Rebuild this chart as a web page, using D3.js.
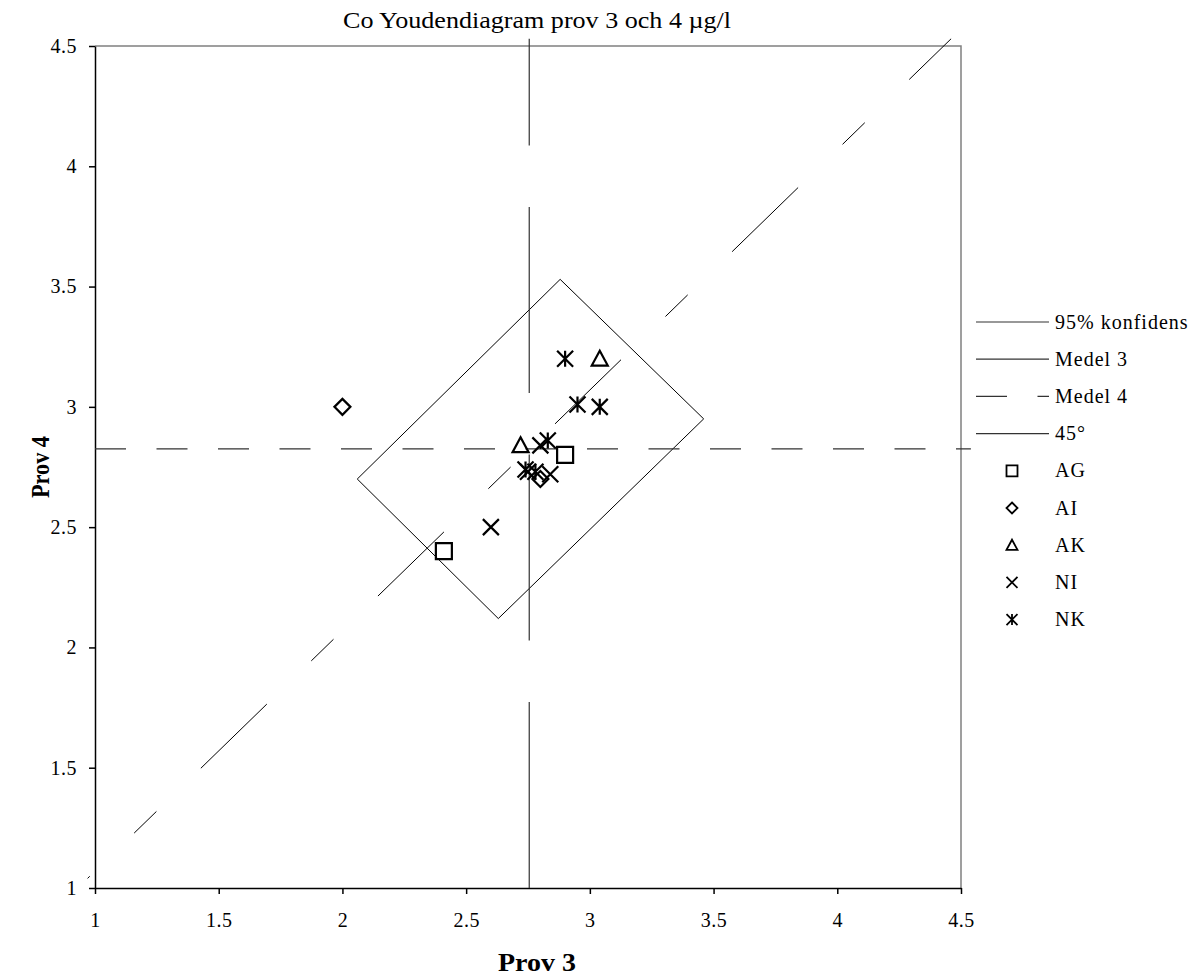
<!DOCTYPE html>
<html>
<head>
<meta charset="utf-8">
<script src="https://cdn.jsdelivr.net/npm/d3@7"></script>
<style>
  body { margin: 0; background: #fff; }
  text { font-family: "Liberation Serif", "Times New Roman", serif; fill: #000; }
</style>
</head>
<body>
<svg id="chart" width="1198" height="978"></svg>
<script>
// values
var tickValues = [1, 1.5, 2, 2.5, 3, 3.5, 4, 4.5];
var medel3 = 2.755;
var medel4 = 2.825;
var konfidens = [[2.06, 2.70], [2.88, 3.53], [3.46, 2.95], [2.63, 2.12], [2.06, 2.70]];
var line45 = [[0.97, 1.04], [4.46, 4.53]];
var medel3Line = [[medel3, 1.0], [medel3, 4.53]];
var medel4Line = [[1.0, medel4], [4.54, medel4]];

var AG = [[2.41, 2.40], [2.90, 2.80]];
var AI = [[2.00, 3.00], [2.80, 2.70]];
var AK = [[2.72, 2.84], [3.04, 3.20]];
var NI = [[2.60, 2.50], [2.80, 2.84], [2.75, 2.73], [2.84, 2.72]];
var NK = [[2.90, 3.20], [2.95, 3.01], [3.04, 3.00], [2.83, 2.86], [2.74, 2.74], [2.78, 2.73]];

var seriesNames = ["AG", "AI", "AK", "NI", "NK"];
var seriesData = [AG, AI, AK, NI, NK];
var lineNames = ["95% konfidens", "Medel 3", "Medel 4", "45\u00B0"];

var svg = d3.select("#chart");

var x = d3.scaleLinear().domain([1, 4.5]).range([95, 961]);
var y = d3.scaleLinear().domain([1, 4.5]).range([888, 46]);

// plot border (top + right are grey in the original)
svg.append("path")
    .attr("d", `M ${x(1)},${y(4.5)} H ${x(4.5)} V ${y(1)}`)
    .attr("fill", "none")
    .attr("stroke", "#808080")
    .attr("stroke-width", 1.5);

// axes
var xAxis = svg.append("g")
    .attr("transform", `translate(0,${y(1)})`)
    .call(d3.axisBottom(x).tickValues(tickValues).tickSize(6).tickSizeOuter(0).tickPadding(19).tickFormat(d => d));
var yAxis = svg.append("g")
    .attr("transform", `translate(${x(1)},0)`)
    .call(d3.axisLeft(y).tickValues(tickValues).tickSize(6).tickSizeOuter(0).tickPadding(12).tickFormat(d => d));

[xAxis, yAxis].forEach(function(a) {
    a.selectAll("path, line").attr("stroke", "#000").attr("stroke-width", 1.5);
    a.selectAll("text")
        .style("font-family", "'Liberation Serif', serif")
        .style("font-size", "20px")
        .style("letter-spacing", "0.5px")
        .attr("fill", "#000");
});

var line = d3.line().x(d => x(d[0])).y(d => y(d[1]));

// 95% confidence box
svg.append("path")
    .attr("d", line(konfidens))
    .attr("fill", "none")
    .attr("stroke", "#000")
    .attr("stroke-width", 1);

// medel lines
svg.append("path")
    .attr("d", line(medel3Line))
    .attr("fill", "none")
    .attr("stroke", "#333")
    .attr("stroke-width", 1.2)
    .attr("stroke-dasharray", "186,61.5");

svg.append("path")
    .attr("d", line(medel4Line))
    .attr("fill", "none")
    .attr("stroke", "#333")
    .attr("stroke-width", 1.2)
    .attr("stroke-dasharray", "31,30.5");

// 45 degree line
svg.append("path")
    .attr("d", line(line45))
    .attr("fill", "none")
    .attr("stroke", "#000")
    .attr("stroke-width", 1)
    .attr("stroke-dasharray", "92,62,31,62")
    .attr("stroke-dashoffset", 89);

// marker shapes
function markerPath(name, s) {
    if (name == "AG") return `M ${-s},${-s} H ${s} V ${s} H ${-s} Z`;
    if (name == "AI") return `M 0,${-s} L ${s},0 L 0,${s} L ${-s},0 Z`;
    if (name == "AK") return `M 0,${-s} L ${s},${s * 0.85} L ${-s},${s * 0.85} Z`;
    if (name == "NI") return `M ${-s},${-s} L ${s},${s} M ${s},${-s} L ${-s},${s}`;
    return `M ${-s},${-s} L ${s},${s} M ${s},${-s} L ${-s},${s} M 0,${-s} V ${s}`;
}

seriesNames.forEach(function(name, i) {
    svg.selectAll(".pt-" + name)
        .data(seriesData[i])
        .enter().append("path")
        .attr("class", "pt-" + name)
        .attr("transform", d => `translate(${x(d[0])},${y(d[1])})`)
        .attr("d", markerPath(name, 8))
        .attr("fill", "none")
        .attr("stroke", "#000")
        .attr("stroke-width", 2.2);
});

// legend
var legendY0 = 322, legendStep = 37.2;
var legend = svg.append("g");

lineNames.forEach(function(name, i) {
    var ly = legendY0 + i * legendStep;
    legend.append("line")
        .attr("x1", 976).attr("x2", 1049)
        .attr("y1", ly).attr("y2", ly)
        .attr("stroke", "#333")
        .attr("stroke-width", 1.2)
        .attr("stroke-dasharray", name == "Medel 4" ? "31,30.5" : null);
    legend.append("text")
        .attr("x", 1055)
        .attr("y", ly + 6.5)
        .style("font-size", "20px")
        .style("letter-spacing", "1px")
        .text(name);
});

seriesNames.forEach(function(name, i) {
    var ly = legendY0 + (i + lineNames.length) * legendStep;
    legend.append("path")
        .attr("transform", `translate(1012,${ly})`)
        .attr("d", markerPath(name, 5.5))
        .attr("fill", "none")
        .attr("stroke", "#000")
        .attr("stroke-width", 1.8);
    legend.append("text")
        .attr("x", 1055)
        .attr("y", ly + 6.5)
        .style("font-size", "20px")
        .style("letter-spacing", "1px")
        .text(name);
});

// titles
svg.append("text")
    .attr("x", 537)
    .attr("y", 28)
    .attr("text-anchor", "middle")
    .attr("textLength", 388)
    .attr("lengthAdjust", "spacingAndGlyphs")
    .style("font-size", "24px")
    .text("Co Youdendiagram prov 3 och 4 \u00B5g/l");

svg.append("text")
    .attr("x", 537)
    .attr("y", 971)
    .attr("text-anchor", "middle")
    .attr("textLength", 78)
    .attr("lengthAdjust", "spacingAndGlyphs")
    .style("font-size", "25px")
    .style("font-weight", "bold")
    .text("Prov 3");

svg.append("text")
    .attr("transform", "translate(49,467) rotate(-90)")
    .attr("text-anchor", "middle")
    .attr("textLength", 62)
    .attr("lengthAdjust", "spacingAndGlyphs")
    .style("font-size", "25px")
    .style("font-weight", "bold")
    .text("Prov 4");
</script>
</body>
</html>
